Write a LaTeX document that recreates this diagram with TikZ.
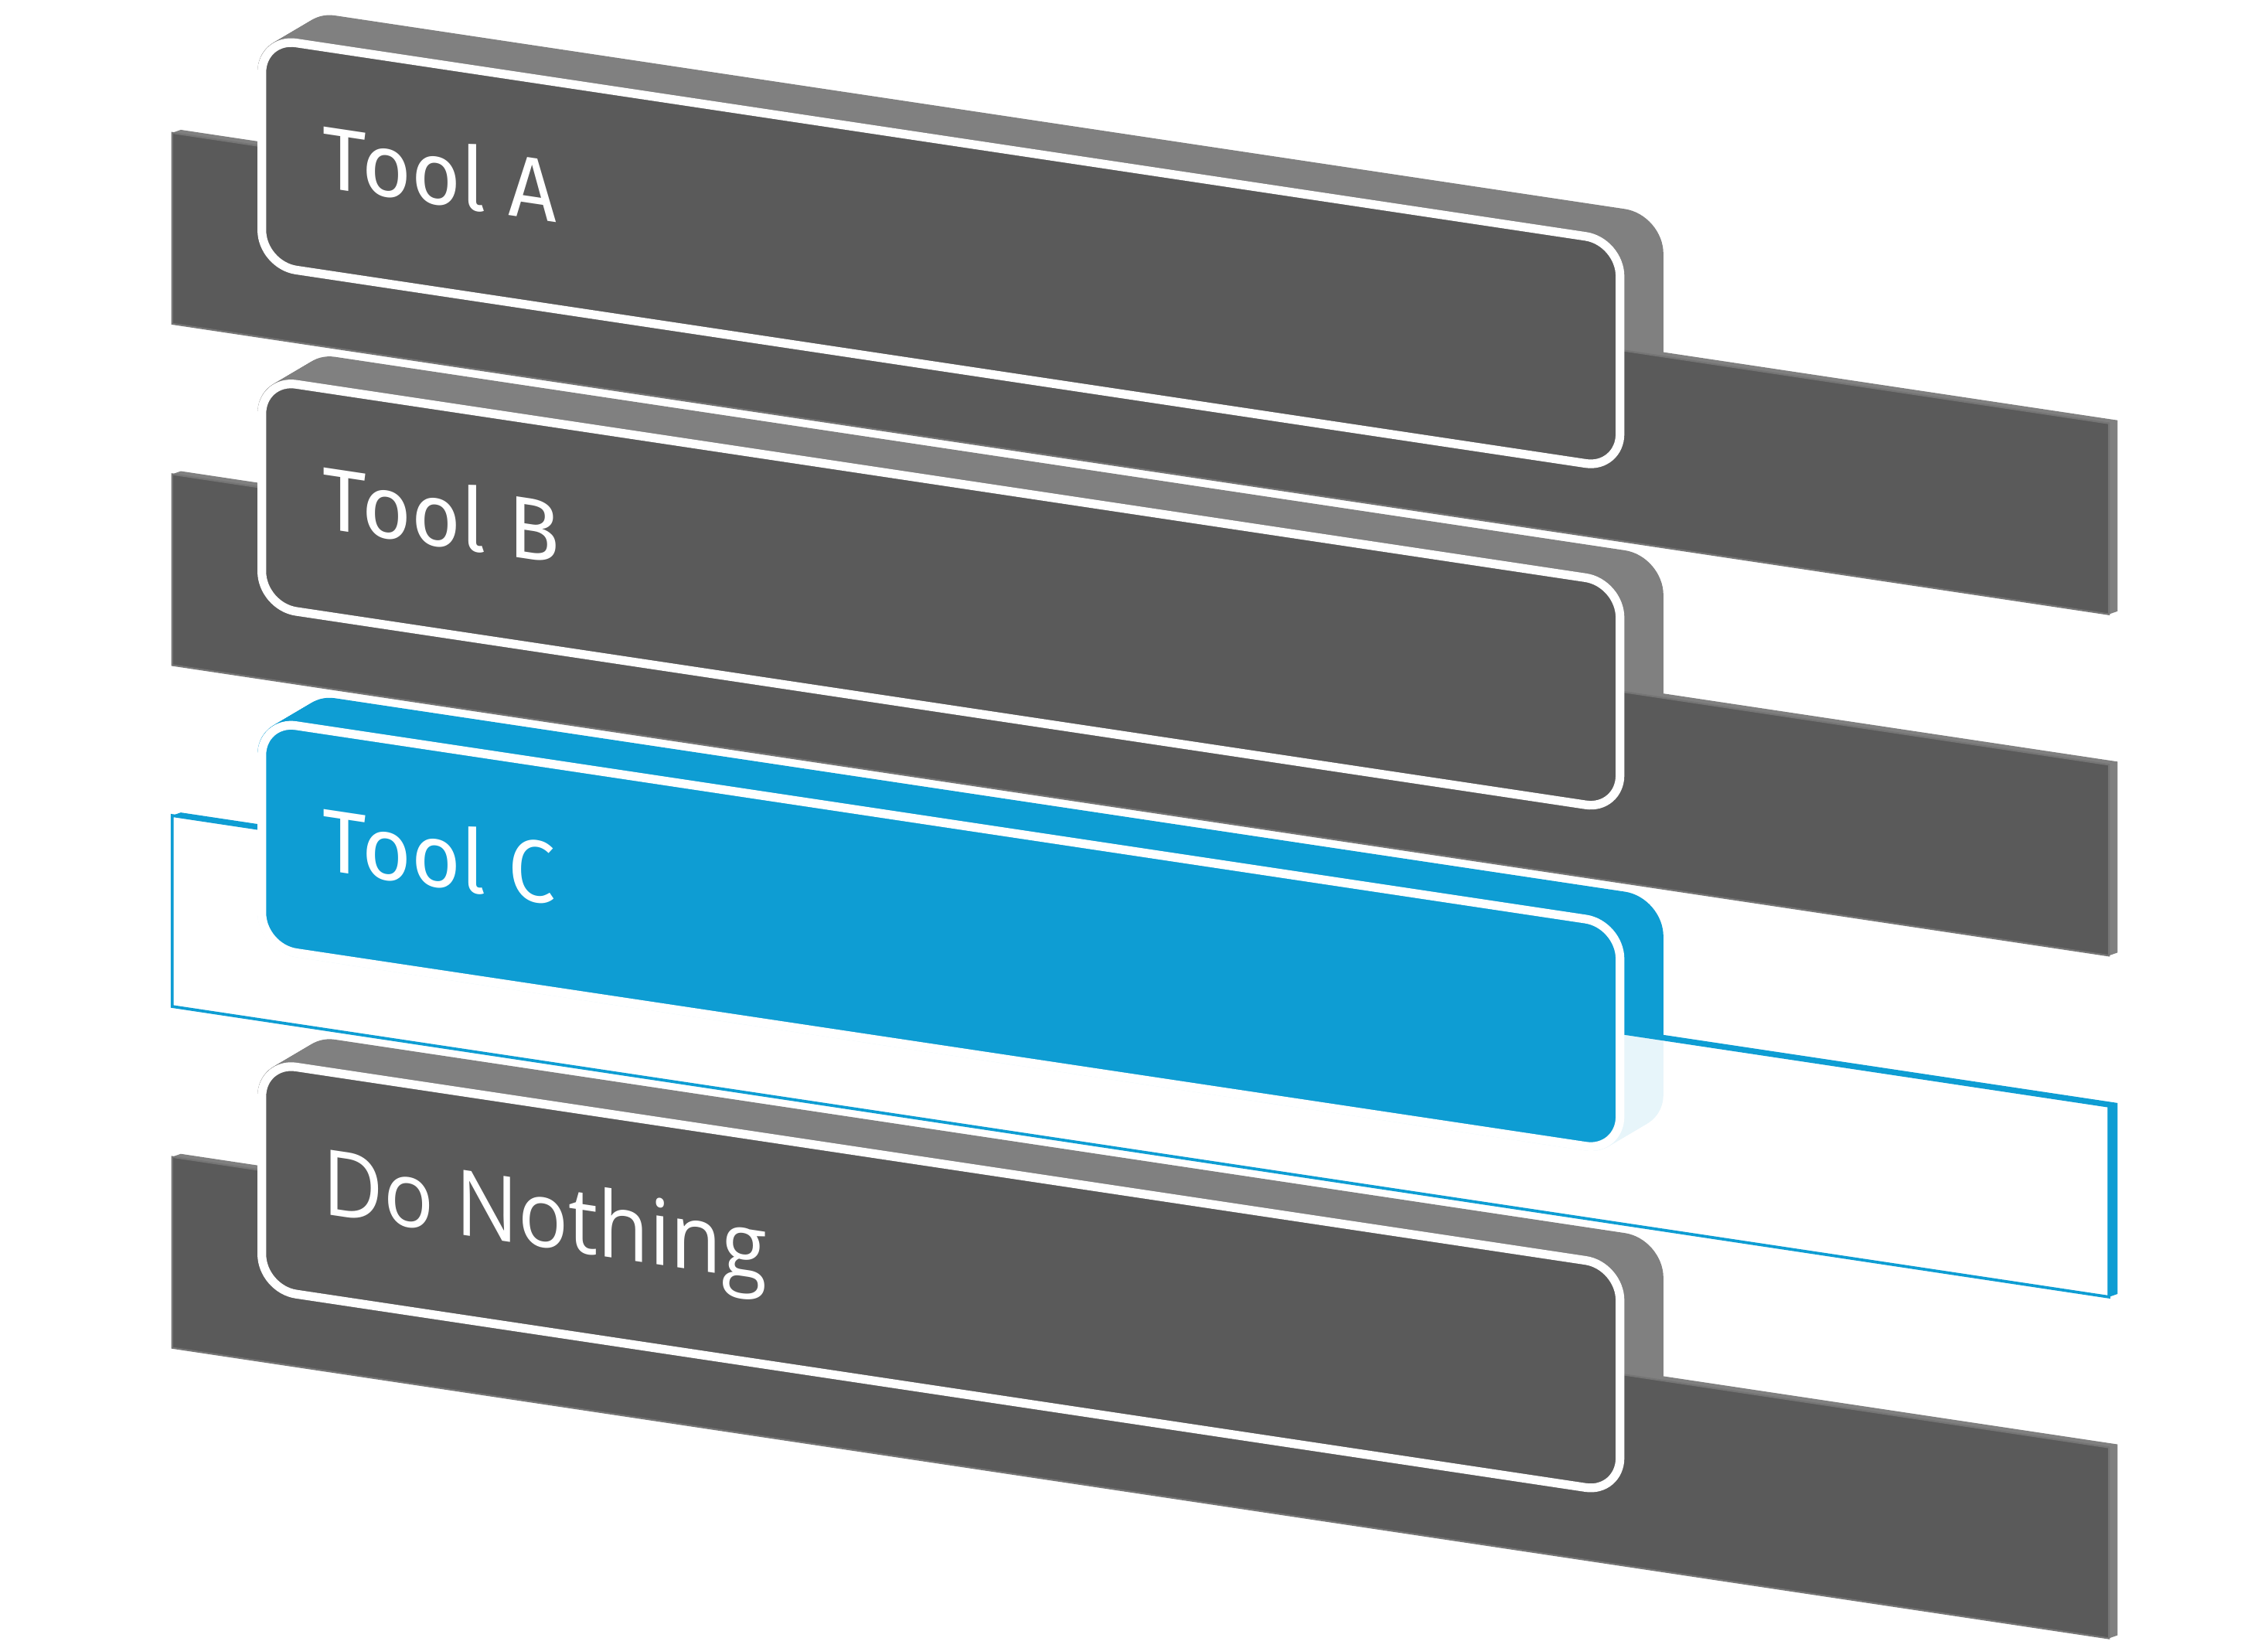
\documentclass[tikz,border=0pt]{standalone}
\usepackage{fontspec}
\newfontfamily\toolfont{Fira Sans}
\newfontfamily\nonefont{Open Sans}

\definecolor{cardgray}{HTML}{5A5A5A}
\definecolor{sidegray}{HTML}{808080}
\definecolor{toolblue}{HTML}{0E9DD3}

\tikzset{
  idleside/.style={fill=sidegray},
  idleface/.style={fill=cardgray, draw=sidegray!70!cardgray, line width=1.2pt},
  idlecard/.style={fill=cardgray, draw=white, line width=6pt},
  activeside/.style={fill=toolblue},
  activeface/.style={fill=white, fill opacity=0.9, draw=toolblue, line width=2pt},
  activecard/.style={fill=toolblue, draw=white, line width=6pt},
  toollabel/.style={text=white, anchor=base west, inner sep=0pt, transform shape,
    xscale=0.96, font=\toolfont\fontsize{61}{61}\selectfont},
  nonelabel/.style={text=white, anchor=base west, inner sep=0pt, transform shape,
    xscale=0.915, font=\nonefont\fontsize{63}{63}\selectfont},
}

\begin{document}
\begin{tikzpicture}[x=1pt, y=-1pt]
    \useasboundingbox (0,0) rectangle (1568,1139);

    \begin{scope}[yslant=-0.15]
    \foreach \r/\txt/\kind/\lbl/\base in {0/Tool A/idle/tool/96, 1/Tool B/idle/tool/96,
        2/Tool C/active/tool/96, 3/Do Nothing/idle/none/98} {
      \begin{scope}[shift={(0,236*\r)}]
        % Draw the depth of the card
        \foreach \s in {0,...,20}
          \fill[\kind side, rounded corners=27pt] ({178+27*\s/20},{-4-\s}) rectangle ++(945,163);

        % Draw the long panel behind
        \fill[\kind side] (119,74) -- (125,71) -- (1464,71) -- (1464,203) -- (1458,206) -- (1458,74) -- cycle;
        \filldraw[\kind face] (119,74) rectangle (1458,206);

        % Draw the card and its label
        \filldraw[\kind card, rounded corners=24pt] (181,-1) rectangle (1120,156);
        \node[\lbl label] (label\r) at (223,\base) {\txt};
      \end{scope}
    }
    \end{scope}

\end{tikzpicture}
\end{document}
